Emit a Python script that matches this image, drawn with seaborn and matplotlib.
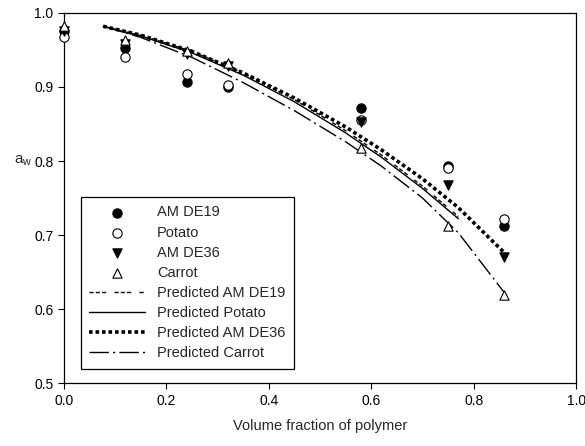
import numpy as np
import pandas as pd
import matplotlib
matplotlib.use("Agg")
import matplotlib.pyplot as plt
import seaborn as sns

# measured points
x_obs = [0.0, 0.12, 0.24, 0.32, 0.58, 0.75, 0.86]
de19_obs = [0.975, 0.953, 0.907, 0.900, 0.872, 0.793, 0.712]
potato_obs = [0.968, 0.940, 0.917, 0.903, 0.855, 0.791, 0.721]
de36_obs = [0.975, 0.958, 0.945, 0.928, 0.853, 0.767, 0.671]
carrot_obs = [0.983, 0.963, 0.948, 0.932, 0.818, 0.712, 0.619]

# predicted curves
x_pred = [0.077, 0.15, 0.25, 0.35, 0.45, 0.55, 0.62, 0.70, 0.77, 0.86]
de19_pred = [0.982, 0.970, 0.948, 0.919, 0.883, 0.841, 0.808, 0.766, 0.725]
potato_pred = [0.982, 0.969, 0.946, 0.916, 0.880, 0.838, 0.805, 0.763, 0.722]
de36_pred = [0.982, 0.970, 0.948, 0.919, 0.885, 0.846, 0.815, 0.776, 0.737, 0.676]
carrot_pred = [0.982, 0.967, 0.940, 0.906, 0.868, 0.826, 0.793, 0.750, 0.703, 0.622]

sns.set_style("ticks")
plt.rcParams['font.family'] = ['Liberation Sans', 'DejaVu Sans']
plt.rcParams['mathtext.fontset'] = 'custom'
plt.rcParams['mathtext.rm'] = 'Liberation Sans'

fig = plt.figure(figsize=(5.85, 4.46), dpi=100)
ax = fig.add_axes([0.109, 0.141, 0.876, 0.830])

obs = [
    ("AM DE19", de19_obs, "o", "black"),
    ("Potato", potato_obs, "o", "white"),
    ("AM DE36", de36_obs, "v", "black"),
    ("Carrot", carrot_obs, "^", "white"),
]
for name, ys, mk, fc in obs:
    sns.scatterplot(x=x_obs, y=ys, marker=mk, color=fc, edgecolor="black",
                    linewidth=0.8, s=45, label=name, ax=ax, clip_on=False, zorder=3)

preds = [
    ("Predicted AM DE19", de19_pred, (0, (3, 1.5, 3, 1.5, 3, 6)), 1.0),
    ("Predicted Potato", potato_pred, "-", 1.0),
    ("Predicted AM DE36", de36_pred, (0, (1, 0.8)), 2.6),
    ("Predicted Carrot", carrot_pred, (0, (14, 3, 1.5, 3)), 1.0),
]
for name, ys, ls, lw in preds:
    df = pd.DataFrame({"x": x_pred[:len(ys)], "y": ys})
    sns.lineplot(data=df, x="x", y="y", color="black", linestyle=ls, linewidth=lw,
                 sort=False, estimator=None, label=name, ax=ax)

ax.set_xlim(0, 1.0)
ax.set_ylim(0.5, 1.0)
ax.set_xticks(np.arange(0, 1.01, 0.2))
ax.set_yticks(np.arange(0.5, 1.01, 0.1))
ax.set_xticklabels([f"{v:.1f}" for v in np.arange(0, 1.01, 0.2)])
ax.set_yticklabels([f"{v:.1f}" for v in np.arange(0.5, 1.01, 0.1)])
ax.tick_params(direction="out", length=4, width=0.8, labelsize=10, colors="black")
for sp in ax.spines.values():
    sp.set_visible(True)
    sp.set_linewidth(0.9)
    sp.set_color("black")

ax.set_xlabel("Volume fraction of polymer", fontsize=10.5, labelpad=8)
ax.set_ylabel(r"a$_\mathrm{w}$", fontsize=11, rotation=0)
ax.yaxis.set_label_coords(-0.08, 0.58)

order = ["AM DE19", "Potato", "AM DE36", "Carrot",
         "Predicted AM DE19", "Predicted Potato", "Predicted AM DE36", "Predicted Carrot"]
h, l = ax.get_legend_handles_labels()
hmap = dict(zip(l, h))
leg = ax.legend([hmap[k] for k in order], order, loc="lower left",
                bbox_to_anchor=(0.033, 0.038), borderaxespad=0, fontsize=10.5,
                frameon=True, fancybox=False, edgecolor="black", framealpha=1,
                handlelength=3.8, handletextpad=0.85, labelspacing=0.42,
                borderpad=0.6)
leg.get_frame().set_linewidth(0.9)
# a bit more room on the right of the legend text
fr = leg.get_frame()

fig.canvas.draw()
bb = fr.get_bbox()
fr.set_width(bb.width + 13)

fig.savefig("out.png", dpi=100)
